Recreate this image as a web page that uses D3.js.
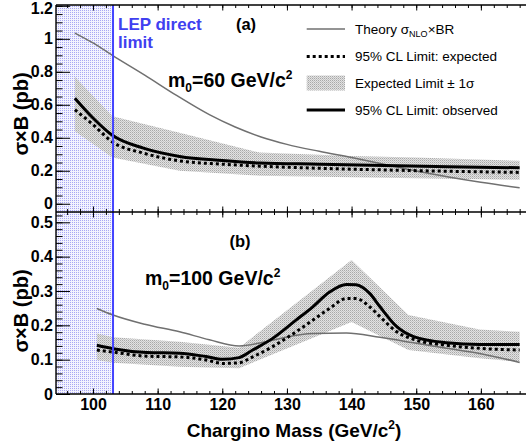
<!DOCTYPE html>
<html><head><meta charset="utf-8">
<script src="https://cdn.jsdelivr.net/npm/d3@7"></script>
<style>
body{margin:0;background:#fff;}
text{font-family:"Liberation Sans",Arial,Helvetica,sans-serif;}
</style></head>
<body>
<svg id="c" width="526" height="447"></svg>
<script>
// ---------- data ----------
const lepLimit = 103.1;
// panel (a) m0 = 60
const massA   = [97.2, 100, 103, 107.8, 113.4, 120, 125.8, 135, 145, 155, 166];
const obsA    = [0.64, 0.52, 0.415, 0.337, 0.287, 0.262, 0.247, 0.24, 0.232, 0.225, 0.218];
const expA    = [0.57, 0.48, 0.375, 0.307, 0.26, 0.24, 0.228, 0.215, 0.205, 0.197, 0.19];
const thMassA = [97.2, 100, 103, 108, 113, 118, 122, 126, 130, 135, 140, 145, 150, 155, 160, 166];
const thA     = [1.035, 0.975, 0.90, 0.78, 0.655, 0.54, 0.465, 0.405, 0.36, 0.318, 0.28, 0.24, 0.198, 0.162, 0.13, 0.097];
const bandMassA = [97.2, 103, 113.4, 125.8, 140, 150, 166];
const bandHiA   = [0.77, 0.53, 0.43, 0.31, 0.29, 0.28, 0.26];
const bandLoA   = [0.44, 0.28, 0.2, 0.17, 0.16, 0.155, 0.145];
// panel (b) m0 = 100
const massB = [100.6, 103.1, 108.3, 113.4, 117.5, 120.1, 122.6, 124.7, 127.8, 131.4, 134, 136.6, 139.2, 140.7, 142.8, 144.4, 147, 149.6, 154.7, 159.8, 166];
const obsB  = [0.142, 0.132, 0.121, 0.119, 0.109, 0.101, 0.106, 0.128, 0.162, 0.215, 0.254, 0.297, 0.319, 0.318, 0.293, 0.254, 0.196, 0.167, 0.149, 0.144, 0.144];
const expB  = [0.128, 0.122, 0.11, 0.108, 0.099, 0.089, 0.091, 0.108, 0.138, 0.181, 0.215, 0.249, 0.278, 0.278, 0.254, 0.225, 0.181, 0.159, 0.142, 0.133, 0.128];
const thMassB = [100.6, 103.1, 108, 113.4, 118, 122.6, 126.7, 130, 134, 139.2, 144.4, 149.6, 154.7, 159.8, 166];
const thB     = [0.249, 0.23, 0.203, 0.181, 0.158, 0.14, 0.152, 0.166, 0.176, 0.178, 0.165, 0.149, 0.133, 0.118, 0.092];
const bandMassB = [100.6, 103.1, 113.4, 122.6, 140, 148.8, 159.8, 166];
const bandHiB   = [0.176, 0.165, 0.152, 0.135, 0.39, 0.23, 0.188, 0.181];
const bandLoB   = [0.099, 0.091, 0.079, 0.075, 0.21, 0.128, 0.104, 0.094];
// ticks
const xMajor = [100, 110, 120, 130, 140, 150, 160];
const yMajorA = [0, 0.2, 0.4, 0.6, 0.8, 1, 1.2];
const yMajorB = [0, 0.1, 0.2, 0.3, 0.4, 0.5];
const legendLabels = ["95% CL Limit: expected", "Expected Limit \u00b1 1\u03c3", "95% CL Limit: observed"];

// ---------- layout ----------
const L = 56, R = 530, TA = 5, MID = 212, BB = 394;
const svg = d3.select("#c");
const x = d3.scaleLinear().domain([94.28, 167.6]).range([L, R]);
const yA = d3.scaleLinear().domain([-0.05, 1.205]).range([MID, TA]);
const yB = d3.scaleLinear().domain([0, 0.53]).range([BB, MID]);

const defs = svg.append("defs");
const pb = defs.append("pattern").attr("id","blueDots").attr("patternUnits","userSpaceOnUse").attr("width",2).attr("height",2);
pb.append("rect").attr("width",2).attr("height",2).attr("fill","#f3f3fe");
pb.append("rect").attr("width",1).attr("height",1).attr("fill","#a8a8f4");
const pg = defs.append("pattern").attr("id","grayDots").attr("patternUnits","userSpaceOnUse").attr("width",2).attr("height",2);
pg.append("rect").attr("width",2).attr("height",2).attr("fill","#e2e2e2");
pg.append("rect").attr("width",1).attr("height",1).attr("fill","#a8a8a8");
pg.append("rect").attr("x",1).attr("y",1).attr("width",1).attr("height",1).attr("fill","#c4c4c4");

// LEP excluded region
svg.append("rect").attr("x",L).attr("y",TA).attr("width",x(lepLimit)-L).attr("height",BB-TA).attr("fill","url(#blueDots)");

function panel(y, bandM, hi, lo, thM, th, m, obs, exp){
  const band = bandM.map((d,i)=>({m:d,hi:hi[i],lo:lo[i]}));
  svg.append("path").datum(band)
    .attr("d", d3.area().x(d=>x(d.m)).y0(d=>y(d.lo)).y1(d=>y(d.hi)))
    .attr("fill","url(#grayDots)");
  const line = d3.line().x(d=>x(d[0])).y(d=>y(d[1])).curve(d3.curveMonotoneX);
  svg.append("path").datum(thM.map((d,i)=>[d,th[i]])).attr("d",line)
    .attr("fill","none").attr("stroke","#707070").attr("stroke-width",1.5);
  svg.append("path").datum(m.map((d,i)=>[d,exp[i]])).attr("d",line)
    .attr("fill","none").attr("stroke","#000").attr("stroke-width",3).attr("stroke-dasharray","3,3");
  svg.append("path").datum(m.map((d,i)=>[d,obs[i]])).attr("d",line)
    .attr("fill","none").attr("stroke","#000").attr("stroke-width",3);
}
panel(yA, bandMassA, bandHiA, bandLoA, thMassA, thA, massA, obsA, expA);
panel(yB, bandMassB, bandHiB, bandLoB, thMassB, thB, massB, obsB, expB);

// LEP line
svg.append("line").attr("x1",x(lepLimit)).attr("x2",x(lepLimit)).attr("y1",TA).attr("y2",BB)
  .attr("stroke","#4444ff").attr("stroke-width",2);

// ---------- axes ----------
const xMinor = d3.range(96, 168, 2);
function xAxes(yPos, dir, labels){
  const mk = dir==="top" ? d3.axisTop : d3.axisBottom;
  const gMin = svg.append("g").attr("transform",`translate(0,${yPos})`)
    .call(mk(x).tickValues(xMinor).tickSize(-3).tickFormat(""));
  const gMaj = svg.append("g").attr("transform",`translate(0,${yPos})`)
    .call(mk(x).tickValues(xMajor).tickSize(-5.5).tickPadding(5).tickFormat(labels? d3.format("d") : ""));
  [gMin,gMaj].forEach(g=>{g.select(".domain").remove(); g.selectAll("line").attr("stroke","#000");});
  gMaj.selectAll("text").attr("font-size",16).attr("font-weight","bold").attr("fill","#000")
    .style("font-family","'Liberation Sans',Arial,sans-serif");
}
xAxes(TA, "top", false);
xAxes(MID, "bottom", false);
xAxes(MID, "top", false);
xAxes(BB, "bottom", true);

function yAxis(y, major, minor, fmt){
  const gMin = svg.append("g").attr("transform",`translate(${L},0)`)
    .call(d3.axisLeft(y).tickValues(minor).tickSize(-6.5).tickFormat(""));
  const gMaj = svg.append("g").attr("transform",`translate(${L},0)`)
    .call(d3.axisLeft(y).tickValues(major).tickSize(-14).tickPadding(3).tickFormat(fmt));
  [gMin,gMaj].forEach(g=>{g.select(".domain").remove(); g.selectAll("line").attr("stroke","#000");});
  gMaj.selectAll("text").attr("font-size",16).attr("font-weight","bold").attr("fill","#000")
    .style("font-family","'Liberation Sans',Arial,sans-serif");
  return gMaj;
}
const gA = yAxis(yA, yMajorA, d3.range(0, 1.21, 0.05).map(v=>+v.toFixed(2)), d=>d===0?"0":d3.format("~g")(d));
gA.selectAll(".tick").filter(d=>d===1.2).select("text").attr("dy","0.5em");
yAxis(yB, yMajorB, d3.range(0, 0.53, 0.02).map(v=>+v.toFixed(2)), d=>d===0?"0":d3.format("~g")(d));

// frame
const fr = svg.append("g").attr("stroke","#000").attr("stroke-width",1.4);
fr.append("line").attr("x1",L).attr("x2",L).attr("y1",TA).attr("y2",BB);
[TA, MID, BB].forEach(v=>fr.append("line").attr("x1",L).attr("x2",R).attr("y1",v).attr("y2",v));

// ---------- texts ----------
function addT(xp, yp, parts, size, weight, color, anchor){
  const t = svg.append("text").attr("x",xp).attr("y",yp).attr("font-size",size)
    .attr("font-weight",weight||"normal").attr("fill",color||"#000").attr("text-anchor",anchor||"start");
  parts.forEach(p=>{
    const s = t.append("tspan").text(p.t);
    if(p.dy) s.attr("dy",p.dy);
    if(p.fs) s.attr("font-size",p.fs);
  });
  return t;
}
// LEP text
addT(118, 30, [{t:"LEP direct"}], 17, "bold", "#4040f0");
addT(118, 48, [{t:"limit"}], 17, "bold", "#4040f0");
addT(246, 30, [{t:"(a)"}], 16.5, "bold", "#000", "middle");
addT(240, 247, [{t:"(b)"}], 16.5, "bold", "#000", "middle");
addT(168, 87, [{t:"m"},{t:"0",fs:12,dy:5},{t:"=60 GeV/c",dy:-5},{t:"2",fs:12,dy:-8},{t:"",dy:8}], 19.5, "bold");
addT(145, 285, [{t:"m"},{t:"0",fs:12,dy:5},{t:"=100 GeV/c",dy:-5},{t:"2",fs:12,dy:-8},{t:"",dy:8}], 19.5, "bold");

// axis titles
addT(294, 437, [{t:"Chargino Mass (GeV/c"},{t:"2",fs:12,dy:-8},{t:")",dy:8}], 19, "bold", "#000", "middle");
svg.append("text").attr("transform","translate(28,114) rotate(-90)").attr("text-anchor","middle")
  .attr("font-size",20).attr("font-weight","bold").text("\u03c3\u00d7B (pb)");
svg.append("text").attr("transform","translate(28,311) rotate(-90)").attr("text-anchor","middle")
  .attr("font-size",20).attr("font-weight","bold").text("\u03c3\u00d7B (pb)");

// ---------- legend ----------
const lx0 = 306.7, lx1 = 345, tx = 355;
const rows = [29, 56.5, 83, 110];
svg.append("line").attr("x1",lx0).attr("x2",lx1).attr("y1",rows[0]).attr("y2",rows[0]).attr("stroke","#707070").attr("stroke-width",1.5);
svg.append("line").attr("x1",lx0).attr("x2",lx1).attr("y1",rows[1]).attr("y2",rows[1]).attr("stroke","#000").attr("stroke-width",3).attr("stroke-dasharray","3,3");
svg.append("rect").attr("x",lx0).attr("y",rows[2]-7.5).attr("width",lx1-lx0).attr("height",15).attr("fill","url(#grayDots)");
svg.append("line").attr("x1",lx0).attr("x2",lx1).attr("y1",rows[3]).attr("y2",rows[3]).attr("stroke","#000").attr("stroke-width",3);
addT(tx, rows[0]+4.5, [{t:"Theory \u03c3"},{t:"NLO",fs:9,dy:3},{t:"\u00d7BR",dy:-3}], 13.5, "normal");
legendLabels.forEach((s,i)=>addT(tx, rows[i+1]+4.5, [{t:s}], 13.5, "normal"));
</script>
</body></html>
